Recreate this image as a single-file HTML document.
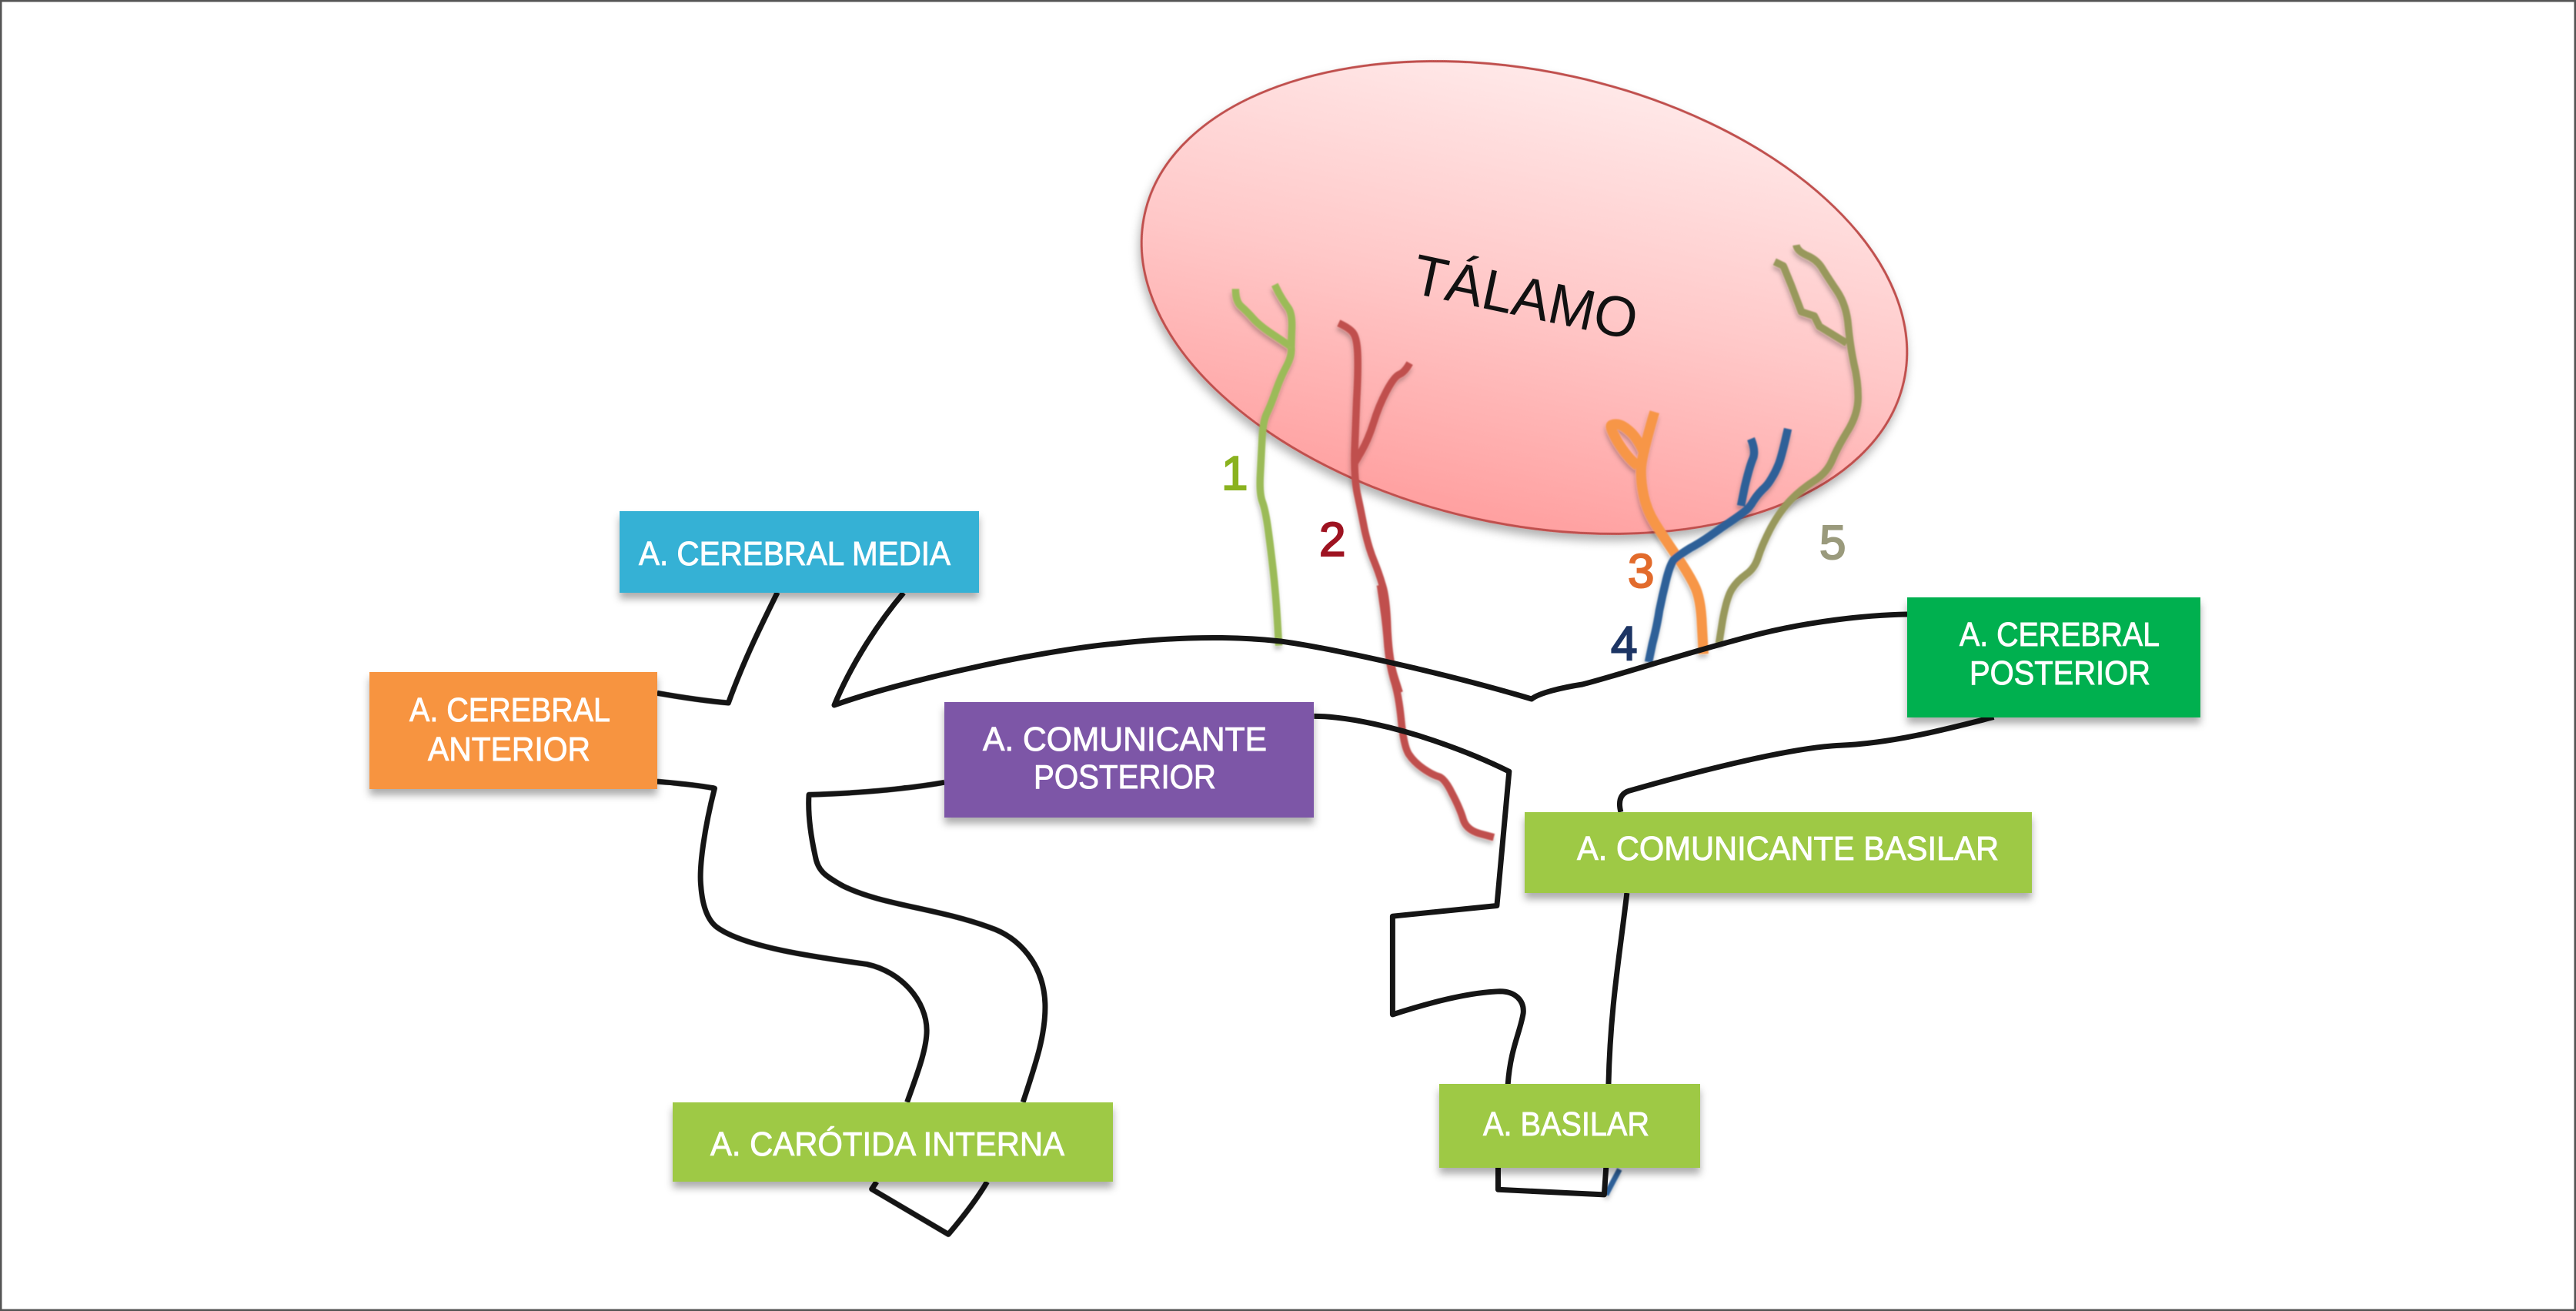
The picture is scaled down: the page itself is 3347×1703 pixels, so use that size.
<!DOCTYPE html>
<html><head><meta charset="utf-8"><style>
html,body{margin:0;padding:0;background:#fff}
svg{display:block}
text{font-family:"Liberation Sans",sans-serif}
.n{vector-effect:non-scaling-stroke;fill:none;stroke-linejoin:round;stroke-linecap:butt}
.k{stroke:#151515;stroke-width:7}
.c{stroke-width:9.5}
.l{fill:#fff;stroke:#fff;stroke-width:.9px;font-size:44px}
.d{font-size:62px;stroke-width:2px}
</style></head><body>
<svg xmlns="http://www.w3.org/2000/svg" width="3347" height="1703" viewBox="0 0 3347 1703">
<defs>
<linearGradient id="g" x1="0" y1="0" x2="0" y2="1">
<stop offset="0" stop-color="#ffe8e8"/><stop offset=".5" stop-color="#ffc8c8"/><stop offset="1" stop-color="#ffa0a0"/>
</linearGradient>
<filter id="s" x="-10%" y="-10%" width="120%" height="125%"><feDropShadow dx="0" dy="8" stdDeviation="6" flood-color="#000" flood-opacity=".3"/></filter>
<filter id="sl" x="-30%" y="-10%" width="160%" height="120%"><feGaussianBlur in="SourceGraphic" stdDeviation=".7" result="b"/><feDropShadow in="b" dx="-1" dy="5" stdDeviation="3" flood-color="#000" flood-opacity=".25"/></filter>
<filter id="sb" x="-5%" y="-5%" width="110%" height="125%"><feDropShadow dx="0" dy="8" stdDeviation="5" flood-color="#000" flood-opacity=".32"/></filter>
</defs>
<rect x="1" y="1" width="3345" height="1701" fill="#fff" stroke="#555" stroke-width="3"/>

<g transform="rotate(12.4 1980.5 386.5)">
<ellipse cx="1980.5" cy="386.5" rx="505" ry="294" fill="url(#g)" stroke="#c0504d" stroke-width="3" filter="url(#s)"/>
</g>
<text transform="translate(1832,380) rotate(12)" font-size="74" fill="#111" textLength="296" lengthAdjust="spacingAndGlyphs">TÁLAMO</text>

<g filter="url(#sl)">
<g transform="translate(1450,50) scale(.6696,.542)">
<path class="n c" stroke="#9bbb59" d="M316,1455 L313,1392 Q310,1330 305,1275 Q300,1220 295,1175 Q290,1130 284,1110 Q278,1090 280,1045 Q282,1000 283.5,960 Q285,920 292,900 Q300,880 310,845 Q320,810 331,785 Q342,760 340,740 M340,740 L341,700 Q343,660 334,645 Q325,630 316,610 L308,590 M338,737 L309,713 Q280,690 267,672 Q255,655 243,642 Q232,630 232,600"/>
<path class="n c" stroke="#c0504d" d="M550,1568 L540,1529 Q530,1490 527,1415 Q525,1340 517,1310 Q510,1280 500,1250 Q490,1220 482,1175 Q475,1130 468,1090 Q462,1050 463,990 Q465,930 467,865 Q470,800 469,760 Q468,720 461,707 Q455,695 432,682 M462,1020 L476,990 Q490,960 500,920 Q510,880 525,845 Q540,810 550,805 Q560,800 570,778"/>
<path class="n c" stroke="#f79646" style="stroke-width:13" d="M1140,1475 L1137,1407 Q1135,1340 1122,1310 Q1110,1280 1085,1235 Q1060,1190 1045,1160 Q1030,1130 1024,1095 Q1018,1060 1019,1030 Q1020,1000 1045,895"/>
<path class="n c" stroke="#98985c" d="M1170,1450 L1177,1395 Q1185,1340 1195,1320 Q1205,1300 1222,1285 Q1240,1270 1247,1240 Q1255,1210 1272,1170 Q1290,1130 1310,1105 Q1330,1080 1355,1060 Q1380,1040 1390,1010 Q1400,980 1420,940 Q1440,900 1440,860 Q1440,820 1432,780 Q1425,740 1421,690 Q1418,640 1399,605 Q1380,570 1370,550 Q1360,530 1341,520 Q1322,510 1320,495 M1418,730 L1365,690 1355,665 1330,655 1310,590 1295,545 1278,535"/>
</g>
<path class="n" stroke="#f79646" stroke-width="13" d="M2128,605 Q2115,595 2102,574 Q2090,553 2094,552 Q2103,548 2115,558 Q2127,567 2137,590"/>
<path class="n" stroke="#2f6098" stroke-width="10.5" d="M2142,860 L2147,836 Q2153,813 2156,793 Q2160,773 2165,753 Q2170,733 2175,727 Q2180,722 2196,712 Q2213,703 2236,686 Q2260,670 2266,665 Q2273,660 2278,651 Q2283,643 2290,636 Q2297,630 2302,621 Q2307,613 2311,603 Q2315,593 2323,557 M2262,657 L2267,632 Q2273,607 2277,597 Q2282,587 2275,570"/>
<g transform="translate(1650,760) scale(.797,.548)">
<path class="n c" stroke="#c0504d" d="M180,0 L185,50 Q190,100 192,145 Q195,190 202,225 Q210,260 214,320 Q218,380 226,400 Q235,420 250,435 Q265,450 275,454 Q285,458 297,494 Q310,530 315,555 Q320,580 342,589 L365,598"/>
<path class="n" stroke="#2f6098" style="stroke-width:7" d="M548,1445 L570,1385"/>
</g>
</g>

<text class="d" x="1587" y="636" fill="#8ab21f" stroke="#8ab21f">1</text>
<text class="d" x="1714" y="722" fill="#9e1321" stroke="#9e1321">2</text>
<text class="d" x="2115" y="763" fill="#e26b2c" stroke="#e26b2c">3</text>
<text class="d" x="2093" y="857" fill="#1c3564" stroke="#1c3564">4</text>
<text class="d" x="2364" y="726" fill="#9a9a7c" stroke="#9a9a7c">5</text>

<path class="n k" d="M1174,770 C1140,810 1105,865 1084,916 C1170,885 1350,845 1450,836 C1530,827 1600,826 1664,833 C1730,842 1880,875 1990,908 C2000,900 2030,893 2056,889 C2100,878 2200,845 2288,823 C2350,808 2420,799 2478,798"/>
<g transform="translate(450,640) scale(.638,.638)">
<path class="n k" d="M633,408 C690,418 730,424 778,428 C810,340 845,270 878,203"/>
<path class="n k" d="M633,588 C680,592 720,596 750,602 C730,680 718,760 722,800 C725,840 735,870 755,885 C810,925 950,945 1060,960 C1130,975 1182,1035 1182,1095 C1182,1135 1160,1190 1142,1241"/>
<path class="n k" d="M1080,1403 L1070,1418 L1226,1510 C1260,1470 1285,1437 1305,1403"/>
<path class="n k" d="M1378,1241 C1405,1160 1425,1100 1423,1040 C1420,960 1370,905 1310,885 C1200,845 1090,840 1010,800 C975,780 960,770 955,740 C945,695 940,650 942,615 C1040,612 1130,605 1218,590"/>
</g>
<g transform="translate(1650,760) scale(.797,.548)">
<path class="n k" d="M72,311 C130,311 210,340 270,370 C320,395 360,420 390,442 L370,760 L200,785 L200,1018 C270,985 330,965 375,963 C400,963 415,985 413,1015 C408,1060 392,1100 388,1183"/>
<path class="n k" d="M372,1381 L372,1433 L545,1445 L548,1381"/>
<path class="n k" d="M1180,313 C1120,335 1020,375 930,380 C850,385 700,440 585,488 C570,495 568,515 572,538"/>
<path class="n k" d="M582,730 C570,880 555,1000 552,1183"/>
</g>

<g filter="url(#sb)">
<rect x="805" y="664" width="467" height="106" fill="#36b1d5"/>
<rect x="480" y="873" width="374" height="152" fill="#f79441"/>
<rect x="1227" y="912" width="480" height="150" fill="#7d57a7"/>
<rect x="874" y="1432" width="572" height="103" fill="#9ec945"/>
<rect x="2478" y="776" width="381" height="156" fill="#00b050"/>
<rect x="1981" y="1055" width="659" height="105" fill="#9ec945"/>
<rect x="1870" y="1408" width="339" height="109" fill="#9ec945"/>
</g>
<text class="l" x="830" y="734" textLength="405" lengthAdjust="spacingAndGlyphs">A. CEREBRAL MEDIA</text>
<text class="l" x="532" y="937" textLength="261" lengthAdjust="spacingAndGlyphs">A. CEREBRAL</text>
<text class="l" x="556" y="988" textLength="211" lengthAdjust="spacingAndGlyphs">ANTERIOR</text>
<text class="l" x="1277" y="975" textLength="369" lengthAdjust="spacingAndGlyphs">A. COMUNICANTE</text>
<text class="l" x="1343" y="1024" textLength="237" lengthAdjust="spacingAndGlyphs">POSTERIOR</text>
<text class="l" x="923" y="1501" textLength="460" lengthAdjust="spacingAndGlyphs">A. CARÓTIDA INTERNA</text>
<text class="l" x="2546" y="839" textLength="260" lengthAdjust="spacingAndGlyphs">A. CEREBRAL</text>
<text class="l" x="2559" y="889" textLength="235" lengthAdjust="spacingAndGlyphs">POSTERIOR</text>
<text class="l" x="2049" y="1117" textLength="548" lengthAdjust="spacingAndGlyphs">A. COMUNICANTE BASILAR</text>
<text class="l" x="1927" y="1475" textLength="216" lengthAdjust="spacingAndGlyphs">A. BASILAR</text>
</svg>
</body></html>
